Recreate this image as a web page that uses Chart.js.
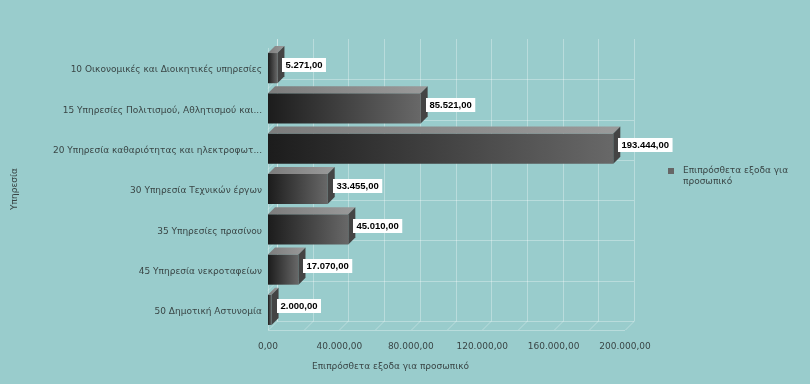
<!DOCTYPE html>
<html>
<head>
<meta charset="utf-8">
<script src="https://cdn.jsdelivr.net/npm/chart.js@4.4.0/dist/chart.umd.min.js"></script>
<style>
  html, body { margin: 0; padding: 0; background: #99cccc; }
  #wrap { position: relative; width: 810px; height: 384px; }
  #legend {
    position: absolute; left: 668px; top: 165px;
    font: 9px "DejaVu Sans", sans-serif; color: #3a4646; line-height: 11px;
  }
  #legend .box { position: absolute; left: 0; top: 3px; width: 6px; height: 6px; background: #666; }
  #legend .txt { position: absolute; left: 15px; top: 0; white-space: nowrap; }
</style>
</head>
<body>
<div id="wrap">
  <canvas id="chart" width="810" height="384"></canvas>
  <div id="legend"><span class="box"></span><span class="txt">Επιπρόσθετα εξοδα για<br>προσωπικό</span></div>
</div>
<script>
// Δεδομένα του γραφήματος
const categories = [
  '10 Οικονομικές και Διοικητικές υπηρεσίες',
  '15 Υπηρεσίες Πολιτισμού, Αθλητισμού και...',
  '20 Υπηρεσία καθαριότητας και ηλεκτροφωτ...',
  '30 Υπηρεσία Τεχνικών έργων',
  '35 Υπηρεσίες πρασίνου',
  '45 Υπηρεσία νεκροταφείων',
  '50 Δημοτική Αστυνομία'
];
const values = [5271, 85521, 193444, 33455, 45010, 17070, 2000];
const seriesName = 'Επιπρόσθετα εξοδα για προσωπικό';
const axisTitleX = 'Επιπρόσθετα εξοδα για προσωπικό';
const axisTitleY = 'Υπηρεσία';
const xMax = 200000;
const xGridStep = 20000;
const xLabelStep = 40000;

const TEXT = '#3a4646';
const FONT = '"DejaVu Sans", sans-serif';
const LABEL_FONT = 'bold 9.5px "Liberation Sans", Arial, sans-serif';
const BAR_DEPTH = 7;   // βάθος 3D των ράβδων
const GRID_DEPTH = 9;  // βάθος του "πίσω τοίχου"

// μορφή αριθμών 5.271,00
function fmt(v) {
  const [i, d] = Math.abs(v).toFixed(2).split('.');
  return i.replace(/\B(?=(\d{3})+(?!\d))/g, '.') + ',' + d;
}

// Πλέγμα, 3D όψεις και ετικέτες τιμών
const bar3d = {
  id: 'bar3d',
  beforeDatasetsDraw(chart) {
    const { ctx, chartArea: a, scales: { x, y } } = chart;
    const d = GRID_DEPTH;
    ctx.save();
    ctx.strokeStyle = 'rgba(255,255,255,0.32)';
    ctx.lineWidth = 1;
    ctx.beginPath();
    for (let v = 0; v <= xMax; v += xGridStep) {
      const px = Math.round(x.getPixelForValue(v)) + 0.5;
      ctx.moveTo(px + d, a.top - d);
      ctx.lineTo(px + d, a.bottom - d);
      ctx.moveTo(px, a.bottom);
      ctx.lineTo(px + d, a.bottom - d);
    }
    // οριζόντιες γραμμές στα όρια κατηγοριών (πίσω τοίχος)
    for (let i = 1; i < categories.length; i++) {
      const py = Math.round((y.getPixelForValue(i - 1) + y.getPixelForValue(i)) / 2) + 0.5;
      ctx.moveTo(a.left + d, py - d);
      ctx.lineTo(a.right + d, py - d);
      ctx.moveTo(a.left, py);
      ctx.lineTo(a.left + d, py - d);
    }
    // δάπεδο και αριστερός τοίχος
    ctx.moveTo(a.left, Math.round(a.bottom) + 0.5);
    ctx.lineTo(a.right, Math.round(a.bottom) + 0.5);
    ctx.moveTo(a.left + d, Math.round(a.bottom - d) + 0.5);
    ctx.lineTo(a.right + d, Math.round(a.bottom - d) + 0.5);
    ctx.moveTo(Math.round(a.left) + 0.5, a.top);
    ctx.lineTo(Math.round(a.left) + 0.5, a.bottom);
    ctx.moveTo(Math.round(a.left + d) + 0.5, a.top - d);
    ctx.lineTo(Math.round(a.left + d) + 0.5, a.bottom - d);
    ctx.stroke();
    ctx.restore();
  },
  afterDatasetsDraw(chart) {
    const { ctx } = chart;
    const meta = chart.getDatasetMeta(0);
    const d = BAR_DEPTH;
    ctx.save();
    meta.data.forEach((bar, i) => {
      const p = bar.getProps(['x', 'y', 'base', 'height'], true);
      const top = p.y - p.height / 2, bot = p.y + p.height / 2;
      // πάνω όψη
      const g = ctx.createLinearGradient(p.base, 0, p.x + d, 0);
      g.addColorStop(0, '#7c7c7c');
      g.addColorStop(1, '#9a9a9a');
      ctx.fillStyle = g;
      ctx.beginPath();
      ctx.moveTo(p.base, top);
      ctx.lineTo(p.x, top);
      ctx.lineTo(p.x + d, top - d);
      ctx.lineTo(p.base + d, top - d);
      ctx.closePath();
      ctx.fill();
      // πλαϊνή όψη
      ctx.fillStyle = '#444';
      ctx.beginPath();
      ctx.moveTo(p.x, top);
      ctx.lineTo(p.x + d, top - d);
      ctx.lineTo(p.x + d, bot - d);
      ctx.lineTo(p.x, bot);
      ctx.closePath();
      ctx.fill();
      // ετικέτα τιμής
      const txt = fmt(values[i]);
      ctx.font = LABEL_FONT;
      const w = ctx.measureText(txt).width;
      const bx = Math.round(p.x + d - 2), by = Math.round(p.y - d / 2 - 7);
      ctx.fillStyle = '#ffffff';
      ctx.fillRect(bx, by, w + 7, 14);
      ctx.fillStyle = '#000';
      ctx.textBaseline = 'middle';
      ctx.textAlign = 'left';
      ctx.fillText(txt, bx + 3.5, by + 7.5);
    });
    ctx.restore();
  },
  afterDraw(chart) {
    const { ctx, chartArea: a } = chart;
    ctx.save();
    ctx.font = '9px ' + FONT;
    ctx.fillStyle = TEXT;
    ctx.textBaseline = 'middle';
    ctx.textAlign = 'left';
    ctx.fillText(axisTitleX, a.left + 44, 367);
    ctx.restore();
  }
};

new Chart(document.getElementById('chart'), {
  type: 'bar',
  data: {
    labels: categories,
    datasets: [{
      label: seriesName,
      data: values,
      backgroundColor(c) {
        const chart = c.chart;
        const x = chart.scales && chart.scales.x;
        if (!x || !chart.chartArea) return '#333';
        const x0 = x.getPixelForValue(0);
        const x1 = x.getPixelForValue(values[c.dataIndex]);
        const g = chart.ctx.createLinearGradient(x0, 0, Math.max(x1, x0 + 1), 0);
        g.addColorStop(0, '#1c1c1c');
        g.addColorStop(1, '#686868');
        return g;
      },
      borderWidth: 0,
      barPercentage: 0.75,
      categoryPercentage: 1
    }]
  },
  options: {
    indexAxis: 'y',
    responsive: false,
    animation: false,
    layout: { padding: { top: 48, right: 185, bottom: 0, left: 0 } },
    plugins: {
      legend: { display: false },
      tooltip: { enabled: false }
    },
    scales: {
      x: {
        min: 0,
        max: xMax,
        grid: { display: false, drawTicks: false, tickLength: 0 },
        border: { display: false },
        ticks: {
          stepSize: xGridStep,
          autoSkip: false,
          maxRotation: 0,
          padding: 11,
          color: TEXT,
          font: { family: FONT, size: 9 },
          callback: v => (v % xLabelStep === 0 ? fmt(v) : '')
        },
        afterFit(s) { s.height = 54; }
      },
      y: {
        grid: { display: false, drawTicks: false, tickLength: 0 },
        border: { display: false },
        ticks: {
          padding: 6,
          labelOffset: 2,
          color: TEXT,
          font: { family: FONT, size: 9 }
        },
        title: {
          display: true,
          text: axisTitleY,
          color: TEXT,
          font: { family: FONT, size: 9 },
          padding: { top: 9, bottom: 0 }
        },
        afterFit(s) { s.width = 268; }
      }
    }
  },
  plugins: [bar3d]
});
</script>
</body>
</html>
